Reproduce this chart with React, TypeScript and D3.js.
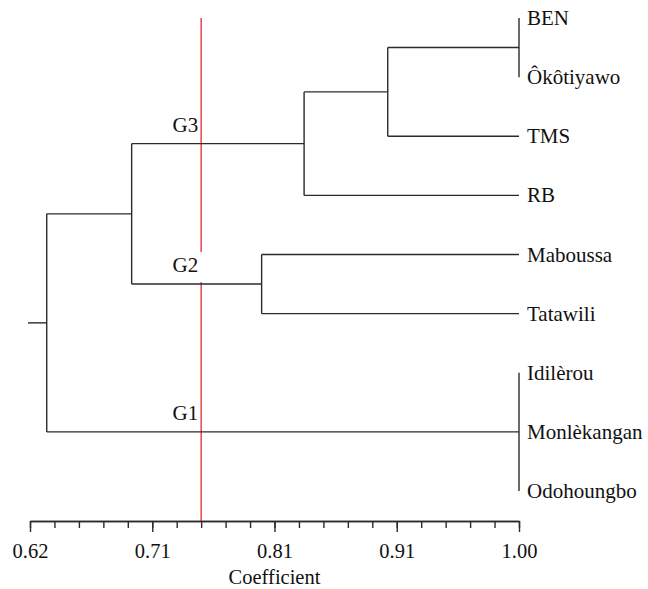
import { useEffect, useRef } from "react";
import * as d3 from "d3";

// leaves, top to bottom
const leaves = ["BEN", "Ôkôtiyawo", "TMS", "RB", "Maboussa", "Tatawili", "Idilèrou", "Monlèkangan", "Odohoungbo"];

// merges (UPGMA style): children refer to leaf names or earlier merge ids
const mergeIds = ["n1", "n2", "n3", "n4", "n5", "n6", "n7"];
const mergeChildren = [
    ["BEN", "Ôkôtiyawo"],
    ["Idilèrou", "Monlèkangan", "Odohoungbo"],
    ["n1", "TMS"],
    ["n3", "RB"],
    ["Maboussa", "Tatawili"],
    ["n4", "n5"],
    ["n6", "n2"]
];
const mergeHeights = [1.0, 1.0, 0.898, 0.833, 0.80, 0.699, 0.633];

// group labels sit on these branches
const groupNames = ["G3", "G2", "G1"];
const groupNodes = ["n4", "n5", "n2"];

const cutoff = 0.753;

const majorTicks = [0.62, 0.715, 0.81, 0.905, 1.0];
const majorLabels = ["0.62", "0.71", "0.81", "0.91", "1.00"];

export default function App() {
    const ref = useRef<SVGSVGElement>(null);

    useEffect(() => {
        document.body.style.margin = "0";
        var width = 648, height = 589;
        var font = "Liberation Serif, DejaVu Serif, serif";
        var ink = "#2b2b2b";

        var svg = d3.select(ref.current);
        svg.selectAll("*").remove();
        svg.attr("width", width).attr("height", height)
            .attr("font-family", font);

        var x = d3.scaleLinear().domain([0.62, 1.0]).range([30, 519]);
        var yLeaf = d3.scalePoint().domain(leaves).range([18, 491]);

        // positions of every node
        var nodeY: Record<string, number> = {};
        var nodeH: Record<string, number> = {};
        leaves.forEach(function (l) { nodeY[l] = yLeaf(l) as number; nodeH[l] = 1.0; });
        mergeIds.forEach(function (id, i) {
            nodeY[id] = d3.mean(mergeChildren[i], function (c) { return nodeY[c]; }) as number;
            nodeH[id] = mergeHeights[i];
        });

        var g = svg.append("g");
        var axisY = 521;

        // red cut-off line
        g.append("line")
            .attr("x1", x(cutoff)).attr("x2", x(cutoff))
            .attr("y1", 18).attr("y2", axisY)
            .attr("stroke", "#e8262b").attr("stroke-width", 1.3);

        // tree branches
        mergeIds.forEach(function (id, i) {
            var hx = x(mergeHeights[i]);
            var ys = mergeChildren[i].map(function (c) { return nodeY[c]; });
            g.append("line")
                .attr("x1", hx).attr("x2", hx)
                .attr("y1", d3.min(ys) as number).attr("y2", d3.max(ys) as number)
                .attr("stroke", ink).attr("stroke-width", 1.4);
            mergeChildren[i].forEach(function (c) {
                if (nodeH[c] === mergeHeights[i]) return;
                g.append("line")
                    .attr("x1", hx).attr("x2", x(nodeH[c]))
                    .attr("y1", nodeY[c]).attr("y2", nodeY[c])
                    .attr("stroke", ink).attr("stroke-width", 1.4);
            });
        });

        // root stub
        var root = mergeIds[mergeIds.length - 1];
        g.append("line")
            .attr("x1", x(0.62) - 2).attr("x2", x(nodeH[root]))
            .attr("y1", nodeY[root]).attr("y2", nodeY[root])
            .attr("stroke", ink).attr("stroke-width", 1.4);

        // leaf labels
        g.selectAll(".leaf")
            .data(leaves)
            .enter()
            .append("text")
            .attr("x", x(1.0) + 8)
            .attr("y", function (d) { return (yLeaf(d) as number) + 7; })
            .text(function (d) { return d; })
            .attr("font-family", font)
            .attr("font-size", 21)
            .attr("fill", "#111");

        // group labels, G2 gets a white box that hides the red line
        groupNames.forEach(function (name, i) {
            var ly = nodeY[groupNodes[i]];
            if (name === "G2") {
                g.append("rect")
                    .attr("x", 168).attr("y", ly - 32)
                    .attr("width", x(cutoff) + 1.5 - 168).attr("height", 30)
                    .attr("fill", "#fff");
            }
            g.append("text")
                .attr("x", x(cutoff) - 3)
                .attr("y", ly - 12)
                .attr("text-anchor", "end")
                .text(name)
                .attr("font-family", font)
                .attr("font-size", 21)
                .attr("fill", "#111");
        });

        // axis
        var minorTicks = d3.range(0, 21).map(function (k) { return 0.62 + k * 0.019; });
        var minor = d3.axisBottom(x).tickValues(minorTicks).tickSize(7).tickSizeOuter(0).tickFormat(function () { return ""; });
        var major = d3.axisBottom(x).tickValues(majorTicks).tickSize(11).tickSizeOuter(0).tickPadding(11)
            .tickFormat(function (d, i) { return majorLabels[i]; });

        g.append("g").attr("transform", "translate(0," + axisY + ")").call(minor)
            .call(function (s) { s.selectAll("line, path").attr("stroke", ink).attr("stroke-width", 1.4); });
        g.append("g").attr("transform", "translate(0," + axisY + ")").call(major)
            .call(function (s) {
                s.attr("font-family", font).attr("font-size", 20.5);
                s.selectAll("line, path").attr("stroke", ink).attr("stroke-width", 1.4);
                s.selectAll("text").attr("fill", "#111");
            });

        g.append("text")
            .attr("x", (x(0.62) + x(1.0)) / 2)
            .attr("y", 584)
            .attr("text-anchor", "middle")
            .text("Coefficient")
            .attr("font-family", font)
            .attr("font-size", 20.5)
            .attr("fill", "#111");
    }, []);

    return (
        <div>
            <svg ref={ref}></svg>
        </div>
    );
}
